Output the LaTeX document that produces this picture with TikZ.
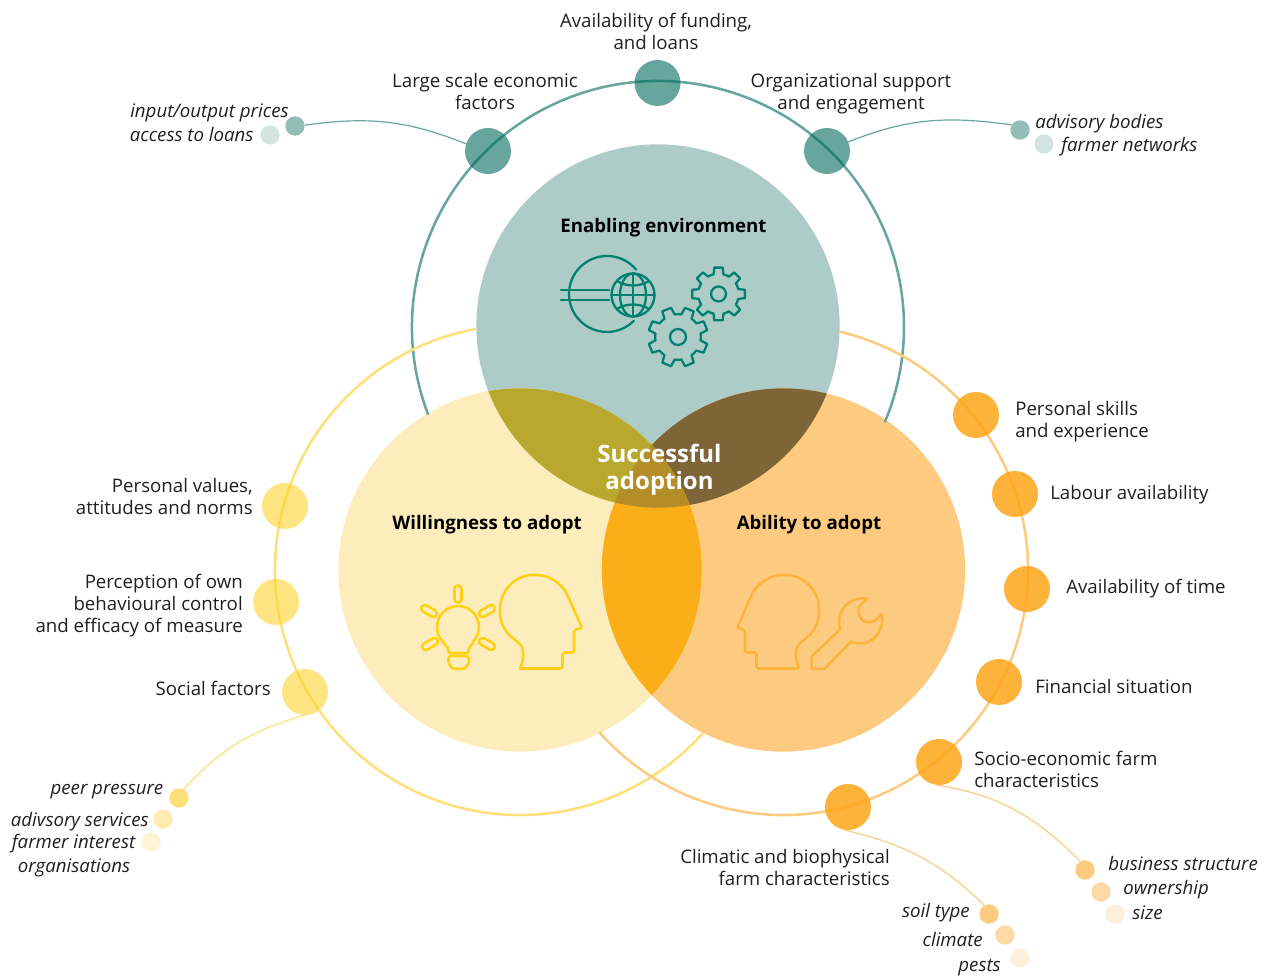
\documentclass[tikz,border=0pt]{standalone}
\usepackage{fontspec}
\setmainfont{Open Sans}
\usetikzlibrary{positioning}
\definecolor{tealdisk}{HTML}{ADCCC7}
\definecolor{tealring}{HTML}{66A69D}
\definecolor{tealbase}{HTML}{006A5C}
\definecolor{tealicon}{HTML}{00806E}
\definecolor{tealsmalla}{HTML}{93BEB7}
\definecolor{tealsmallb}{HTML}{D3E5E1}
\definecolor{yeldisk}{HTML}{FDEDBC}
\definecolor{yelring}{HTML}{FEE07B}
\definecolor{yelbase}{HTML}{FFD42E}
\definecolor{yelicon}{HTML}{FFD112}
\definecolor{yelsmallb}{HTML}{FEEBB0}
\definecolor{yelsmallc}{HTML}{FEF5D6}
\definecolor{oradisk}{HTML}{FDCB80}
\definecolor{orabase}{HTML}{FDA518}
\definecolor{oraicon}{HTML}{FDB43F}
\definecolor{orasmallb}{HTML}{FDD9A6}
\definecolor{orasmallc}{HTML}{FDF0DB}
\definecolor{lensty}{HTML}{B8A82E}
\definecolor{lensto}{HTML}{7D6537}
\definecolor{lensyo}{HTML}{FBAE17}
\definecolor{lenscentre}{HTML}{B38D28}
\tikzset{
  disk/.style={circle,inner sep=0pt,minimum size=272.5pt},
  bigdot/.style={circle,inner sep=0pt,minimum size=34.5pt,fill opacity=#1},
  bigdot/.default=0.85,
  smalldot/.style={circle,inner sep=0pt,minimum size=14.5pt},
  lab/.style={inner sep=0pt,text=black!88,font=\fontsize{14}{16.5}\selectfont},
  lab-it/.style={inner sep=0pt,text=black!88,font=\fontsize{14}{16.5}\selectfont\itshape},
  lab-bf/.style={inner sep=0pt,text=black,font=\fontsize{14}{16.5}\selectfont\bfseries},
  ring/.style={line width=1.9pt},
  thinline/.style={line width=0.9pt},
  iconline/.style={line width=1.9pt,line join=round,line cap=round},
  headicon/.pic={
    \draw[pic actions,rounded corners=1.5pt]
      (520,308.5) -- (562.5,308.5) -- (562.5,324.5) -- (574,324.5) -- (574,347)
      -- (582,349) -- (566.5,384) .. controls (560,394) and (549,402) .. (535,402)
      .. controls (515,402) and (500,386) .. (500,366)
      .. controls (500,352) and (507,343) .. (516.5,336)
      .. controls (524,330) and (525,320) .. (520,308.5);
  },
  rayicon/.pic={
    \draw[pic actions,rounded corners=2.4pt] (-8.5,-3.5) rectangle (8.5,3.5);
  }
}
\newcommand{\geardraw}[4]{% centre x, centre y, outer radius, turn
  \draw[iconline,line width=1.7pt,tealicon,shift={(#1,#2)},rotate=#4]
    (-14:#3*0.76)
    \foreach \a in {0,45,...,315}{
      -- (\a-14:#3*0.76) -- (\a-9:#3) -- (\a+9:#3) -- (\a+14:#3*0.76)
      arc[start angle=\a+14,end angle=\a+31,radius=#3*0.76]
    } -- cycle;
}
\begin{document}
\begin{tikzpicture}[x=0.75pt,y=0.75pt]
\useasboundingbox (0,0) rectangle (1266,977);

% three discs
\node[disk,fill=tealdisk] (enabling) at (658,651) {};
\node[disk,fill=yeldisk] (willing) at (520,407) {};
\node[disk,fill=oradisk] (ability) at (783.5,407) {};

\begin{scope}
\clip (658,651) circle (181.67);
\fill[lensty] (520,407) circle (181.67);
\fill[lensto] (783.5,407) circle (181.67);
\end{scope}
\begin{scope}
\clip (520,407) circle (181.67);
\fill[lensyo] (783.5,407) circle (181.67);
\clip (783.5,407) circle (181.67);
\fill[lenscentre] (658,651) circle (181.67);
\end{scope}

% rings
\draw[ring,tealring] (658,650) ++(200.9:246) arc[start angle=200.9,end angle=-22.8,radius=246];
\draw[ring,yelring] (520,407) ++(100.4:245) arc[start angle=100.4,end angle=318.3,radius=245];
\draw[ring,oradisk] (783,407) ++(76.5:245) arc[start angle=76.5,end angle=-138.6,radius=245];

% icons top
\draw[iconline,line width=1.7pt,tealicon] (607,683) ++(40:38) arc[start angle=40,end angle=315,radius=38];
\draw[iconline,line width=1.7pt,tealicon] (561,687) -- (609,687);
\draw[iconline,line width=1.7pt,tealicon] (561,677) -- (609,677);
\begin{scope}[shift={(633,682)},line width=1.7pt]
\draw[iconline,line width=1.7pt,tealicon] (0,0) circle (21.5);
\draw[iconline,line width=1.7pt,tealicon] (0,0) ellipse (13 and 21.5);
\draw[iconline,line width=1.7pt,tealicon] (0,-21.5) -- (0,21.5);
\draw[iconline,line width=1.7pt,tealicon] (-21.5,0) -- (21.5,0);
\draw[iconline,line width=1.7pt,tealicon] (-16,14) .. controls (-7,8) and (7,8) .. (16,14);
\draw[iconline,line width=1.7pt,tealicon] (-16,-14) .. controls (-7,-8) and (7,-8) .. (16,-14);
\end{scope}
\geardraw{718.5}{683}{26.7}{0}
\draw[iconline,line width=1.7pt,tealicon] (718.5,683) circle (7.5);
\geardraw{678}{640}{30}{22.5}
\draw[iconline,line width=1.7pt,tealicon] (678,640) circle (8);

% icons left
\pic[iconline,draw=yelicon] at (0,0) {headicon};
\pic[iconline,draw=yelicon,rotate=90] at (458,383) {rayicon};
\pic[iconline,draw=yelicon,rotate=-30] at (429,366) {rayicon};
\pic[iconline,draw=yelicon,rotate=30] at (487,366) {rayicon};
\pic[iconline,draw=yelicon,rotate=30] at (430,333) {rayicon};
\pic[iconline,draw=yelicon,rotate=-30] at (487,333) {rayicon};
\draw[iconline,yelicon] (458,350) ++(-44:21) arc[start angle=-44,end angle=224,radius=21]
  .. controls (442,334) and (449,331) .. (449,324) -- (468,324)
  .. controls (468,331) and (475,334) .. (473.1,335.4);
\draw[iconline,yelicon,rounded corners=2pt] (448.5,321) -- (469,321) -- (469,313) -- (464,308) -- (453,308) -- (448.5,313) -- cycle;

% icons right
\pic[iconline,draw=oraicon,xscale=-1] at (1319,0) {headicon};
\draw[iconline,oraicon] (811.7,308) -- (811.7,320.5) -- (840,347.5)
  .. controls (835,366) and (850,382) .. (867.7,378)
  .. controls (861,374) and (858,370) .. (858.5,365)
  .. controls (859,358) and (864,354.7) .. (868.5,354.7)
  .. controls (874,354.7) and (878,358) .. (881.7,363)
  .. controls (885,350) and (875,333.5) .. (861.7,333.5)
  .. controls (858,333.5) and (854,334) .. (851,335.5)
  -- (824.3,308) -- cycle;

% dots
\node[bigdot=0.6,fill=tealbase] (funding) at (657.5,894) {};
\node[bigdot=0.6,fill=tealbase] (largescale) at (488,826) {};
\node[bigdot=0.6,fill=tealbase] (organis) at (827,826) {};
\node[smalldot,fill=tealsmalla] (prices-d) at (295,851) {};
\node[smalldot,fill=tealsmallb] (loans-d) at (270,842) {};
\node[smalldot,fill=tealsmalla] (advisory-d) at (1020,847) {};
\node[smalldot,fill=tealsmallb] (networks-d) at (1044,833) {};

\node[bigdot=0.6,fill=yelbase] (values) at (285,471) {};
\node[bigdot=0.6,fill=yelbase] (perception) at (276,375) {};
\node[bigdot=0.6,fill=yelbase] (social) at (305,285) {};
\node[smalldot,fill=yelring] (peer-d) at (179,179) {};
\node[smalldot,fill=yelsmallb] (services-d) at (163,158) {};
\node[smalldot,fill=yelsmallc] (interest-d) at (151,135) {};

\node[bigdot,fill=orabase] (skills) at (976,562) {};
\node[bigdot,fill=orabase] (labour) at (1015,483) {};
\node[bigdot,fill=orabase] (timeav) at (1027,388) {};
\node[bigdot,fill=orabase] (financial) at (999,295) {};
\node[bigdot,fill=orabase] (socio) at (939,215) {};
\node[bigdot,fill=orabase] (climatic) at (848,170) {};
\node[smalldot,fill=oradisk] (business-d) at (1085,107) {};
\node[smalldot,fill=orasmallb] (ownership-d) at (1101,85) {};
\node[smalldot,fill=orasmallc] (size-d) at (1115,63) {};
\node[smalldot,fill=oradisk] (soil-d) at (989,63) {};
\node[smalldot,fill=orasmallb] (climate-d) at (1005,42) {};
\node[smalldot,fill=orasmallc] (pests-d) at (1020,19) {};

% connectors
\draw[thinline,tealring] (largescale.162) to[out=158,in=8] (prices-d.5);
\draw[thinline,tealring] (organis.23) to[out=22,in=172] (advisory-d.149);
\draw[thinline,yelring] (social.-56) to[out=195,in=48] (peer-d.61);
\draw[thinline,oradisk] (socio.-95) to[out=-9,in=135] (business-d.119);
\draw[thinline,oradisk] (climatic.-103) to[out=-13,in=136] (soil-d.118);

% labels
\node[lab,align=center] (funding-l) at (656,945.5) {Availability of funding,\\and loans};
\node[lab,align=center] (largescale-l) at (485,885) {Large scale economic\\factors};
\node[lab,align=center] (organis-l) at (851,883) {Organizational support\\and engagement};

\node[lab-it,anchor=west] (prices-l) at (130,864) {input/output prices};
\node[lab-it,anchor=west] (loans-l) at (129.5,842) {access to loans};
\node[lab-it,anchor=west] (advisory-l) at (1035,853) {advisory bodies};
\node[lab-it,anchor=west] (networks-l) at (1061,830) {farmer networks};

\node[lab,anchor=west,align=left] (skills-l) at (1015,555) {Personal skills\\and experience};
\node[lab,anchor=west] (labour-l) at (1050,482) {Labour availability};
\node[lab,anchor=west] (timeav-l) at (1066,388) {Availability of time};
\node[lab,anchor=west] (financial-l) at (1035,290) {Financial situation};
\node[lab,anchor=west,align=left] (socio-l) at (974,208) {Socio-economic farm\\characteristics};
\node[lab,anchor=east,align=right] (climatic-l) at (890,109) {Climatic and biophysical\\farm characteristics};

\node[lab,anchor=east,align=right] (values-l) at (253,480) {Personal values,\\attitudes and norms};
\node[lab,anchor=east,align=right] (perception-l) at (243,371) {Perception of own\\behavioural control\\and efficacy of measure};
\node[lab,anchor=east] (social-l) at (271,289) {Social factors};

\node[lab-it,anchor=east] (peer-l) at (163.5,185) {peer pressure};
\node[lab-it,anchor=east] (services-l) at (149,155) {adivsory services};
\node[lab-it,anchor=east] (interest-l) at (135.5,133) {farmer interest};
\node[lab-it,anchor=east] (organisations-l) at (130.5,109) {organisations};

\node[lab-it,anchor=west] (business-l) at (1108,113) {business structure};
\node[lab-it,anchor=west] (ownership-l) at (1123,87) {ownership};
\node[lab-it,anchor=west] (size-l) at (1132,64) {size};
\node[lab-it,anchor=east] (soil-l) at (970,64) {soil type};
\node[lab-it,anchor=east] (climate-l) at (983,37) {climate};
\node[lab-it,anchor=east] (pests-l) at (1001,9) {pests};

\node[lab-bf] (enabling-l) at (663.5,749) {Enabling environment};
\node[lab-bf] (willing-l) at (487,452) {Willingness to adopt};
\node[lab-bf] (ability-l) at (809,452) {Ability to adopt};
\node[lab-bf,text=white,align=center,font=\fontsize{18}{20}\selectfont\bfseries] (success) at (659.5,507) {Successful\\adoption};
\end{tikzpicture}
\end{document}
